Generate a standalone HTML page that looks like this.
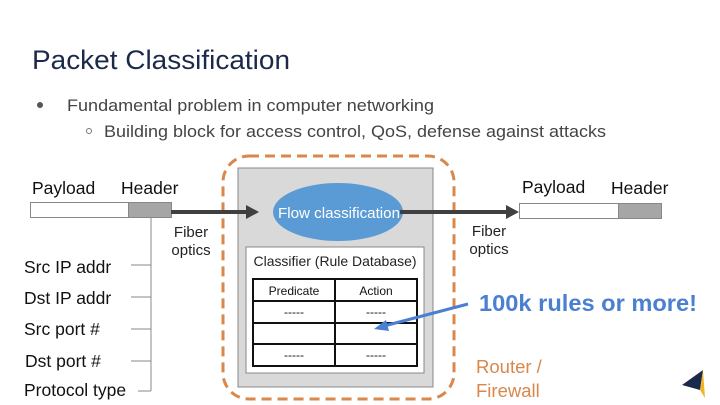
<!DOCTYPE html>
<html><head><meta charset="utf-8"><style>
html,body{margin:0;padding:0;background:#fff;}
body{width:720px;height:405px;position:relative;overflow:hidden;font-family:"Liberation Sans",Arial,sans-serif;}
svg{position:absolute;left:0;top:0;}
</style></head><body>
<svg width="720" height="405" viewBox="0 0 720 405" xmlns="http://www.w3.org/2000/svg" font-family="Liberation Sans, Arial, sans-serif">
<text x="32" y="69" font-size="27" fill="#1b2a4a" textLength="258" lengthAdjust="spacingAndGlyphs">Packet Classification</text>
<circle cx="40" cy="105" r="3" fill="#555"/>
<text x="67" y="111" font-size="17" fill="#444" textLength="367" lengthAdjust="spacingAndGlyphs">Fundamental problem in computer networking</text>
<circle cx="89" cy="131" r="2.5" fill="none" stroke="#777" stroke-width="1"/>
<text x="104" y="137" font-size="17" fill="#444" textLength="502" lengthAdjust="spacingAndGlyphs">Building block for access control, QoS, defense against attacks</text>

<rect x="223" y="156" width="231" height="243" rx="26" fill="none" stroke="#d9874a" stroke-width="3" stroke-dasharray="10,6"/>
<rect x="238" y="168" width="195" height="219" fill="#d9d9d9" stroke="#888" stroke-width="1"/>
<rect x="246" y="247" width="178" height="126" fill="#fff" stroke="#888" stroke-width="1"/>
<text x="335" y="266" font-size="14" text-anchor="middle" fill="#222" textLength="163" lengthAdjust="spacingAndGlyphs">Classifier (Rule Database)</text>
<g stroke="#111" stroke-width="2" fill="none">
<rect x="253" y="279" width="164" height="87"/>
<line x1="335" y1="279" x2="335" y2="366"/>
<line x1="253" y1="301" x2="417" y2="301"/>
<line x1="253" y1="323" x2="417" y2="323"/>
<line x1="253" y1="344" x2="417" y2="344"/>
</g>
<g font-size="12" text-anchor="middle" fill="#111">
<text x="294" y="295">Predicate</text><text x="376" y="295">Action</text>
<text x="294" y="316">-----</text><text x="376" y="316">-----</text>
<text x="294" y="359">-----</text><text x="376" y="359">-----</text>
</g>

<ellipse cx="338" cy="212" rx="65" ry="29" fill="#5b9bd5"/>
<text x="339" y="218" font-size="15" text-anchor="middle" fill="#fff" textLength="122" lengthAdjust="spacingAndGlyphs">Flow classification</text>

<text x="32" y="194" font-size="17.5" fill="#111">Payload</text>
<text x="121" y="194" font-size="17.5" fill="#111">Header</text>
<rect x="30.5" y="202.5" width="98" height="15" fill="#fff" stroke="#888"/>
<rect x="128.5" y="202.5" width="43" height="15" fill="#a6a6a6" stroke="#888"/>
<line x1="171" y1="212" x2="248" y2="212" stroke="#404040" stroke-width="4"/>
<polygon points="246,205 259,212 246,219" fill="#404040"/>
<text x="191" y="237" font-size="15" text-anchor="middle" fill="#222">Fiber</text>
<text x="191" y="255" font-size="15" text-anchor="middle" fill="#222">optics</text>

<line x1="400" y1="212" x2="508" y2="212" stroke="#404040" stroke-width="4"/>
<polygon points="506,205 519,212 506,219" fill="#404040"/>
<text x="489" y="236" font-size="15" text-anchor="middle" fill="#222">Fiber</text>
<text x="489" y="254" font-size="15" text-anchor="middle" fill="#222">optics</text>
<text x="522" y="193" font-size="17.5" fill="#111">Payload</text>
<text x="611" y="194" font-size="17.5" fill="#111">Header</text>
<rect x="519.5" y="203.5" width="99" height="15" fill="#fff" stroke="#888"/>
<rect x="618.5" y="203.5" width="43" height="15" fill="#a6a6a6" stroke="#888"/>

<g stroke="#888" stroke-width="1">
<line x1="151" y1="218" x2="151" y2="391"/>
<line x1="131" y1="265" x2="151" y2="265"/>
<line x1="131" y1="297" x2="151" y2="297"/>
<line x1="131" y1="329" x2="151" y2="329"/>
<line x1="131" y1="361" x2="151" y2="361"/>
<line x1="138" y1="391" x2="151" y2="391"/>
</g>
<g font-size="17.5" fill="#111">
<text x="24" y="273">Src IP addr</text>
<text x="24" y="304">Dst IP addr</text>
<text x="24" y="335">Src port #</text>
<text x="25" y="367">Dst port #</text>
<text x="24" y="396">Protocol type</text>
</g>

<line x1="468" y1="304" x2="384" y2="326" stroke="#4a7fd1" stroke-width="3"/>
<polygon points="374,329 386,320 389,331" fill="#4a7fd1"/>
<text x="479" y="311" font-size="23.5" font-weight="bold" fill="#4a7fd1" textLength="218" lengthAdjust="spacingAndGlyphs">100k rules or more!</text>
<text x="476" y="373" font-size="18.5" fill="#d9874a">Router /</text>
<text x="476" y="397" font-size="18.5" fill="#d9874a">Firewall</text>

<polygon points="682,385 703,370 700,390" fill="#1b2a4a"/>
<polygon points="700,390 703,370 705,398" fill="#f0b429"/>
</svg>
</body></html>
